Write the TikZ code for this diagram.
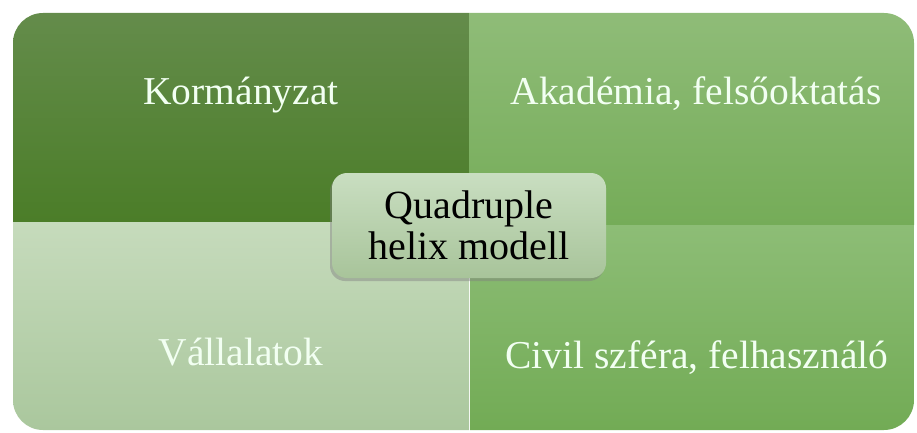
\documentclass[tikz,border=0pt]{standalone}
\usepackage{fontspec}
\setmainfont{Liberation Serif}
\usetikzlibrary{shadows}
\tikzset{
  quad/.style={drop shadow={shadow xshift=-3pt,shadow yshift=-3pt,opacity=0.4}},
  quadtext/.style={anchor=base,text=white!95!green,font=\fontsize{39.5}{42}\selectfont},
  hub/.style={rounded corners=15pt,drop shadow={shadow xshift=-2pt,shadow yshift=-3pt,opacity=0.45},
    top color=hubtop,bottom color=hubbot,minimum width=274pt,minimum height=105pt,
    align=center,font=\fontsize{40}{41}\selectfont}
}
\definecolor{kortop}{HTML}{648C4B}
\definecolor{korbot}{HTML}{4B7D28}
\definecolor{akatop}{HTML}{8FBC78}
\definecolor{akabot}{HTML}{75AC58}
\definecolor{valtop}{HTML}{C6DBBC}
\definecolor{valbot}{HTML}{AAC79D}
\definecolor{civtop}{HTML}{8DBD76}
\definecolor{civbot}{HTML}{72AB55}
\definecolor{hubtop}{HTML}{C9DEC1}
\definecolor{hubbot}{HTML}{A8C49A}
\begin{document}
\begin{tikzpicture}[x=1pt,y=1pt]
      \useasboundingbox (0,0) rectangle (917,432);
      \begin{scope}[quad]
        \path[top color=kortop,bottom color=korbot]
          (469,210) -- (13,210) -- (13,389) arc[start angle=180,end angle=90,radius=30] -- (469,419) -- cycle;
        \path[top color=akatop,bottom color=akabot]
          (469,419) -- (884,419) arc[start angle=90,end angle=0,radius=30] -- (914,207) -- (469,207) -- cycle;
        \path[top color=valtop,bottom color=valbot]
          (13,210) -- (469,210) -- (469,2) -- (43,2) arc[start angle=270,end angle=180,radius=30] -- cycle;
        \path[top color=civtop,bottom color=civbot]
          (470,207) -- (914,207) -- (914,32) arc[start angle=0,end angle=-90,radius=30] -- (470,2) -- cycle;
      \end{scope}
      \draw[draw=none]
        (241,328) node[quadtext] (kor){Kormányzat}
        (696,328) node[quadtext] (aka){Akadémia, felsőoktatás}
        (241,67) node[quadtext] (val){Vállalatok}
        (697,64) node[quadtext] (civ){Civil szféra, felhasználó};
      \node[hub] (qh) at (469,206.5) {Quadruple\\helix modell};
    \end{tikzpicture}
\end{document}
